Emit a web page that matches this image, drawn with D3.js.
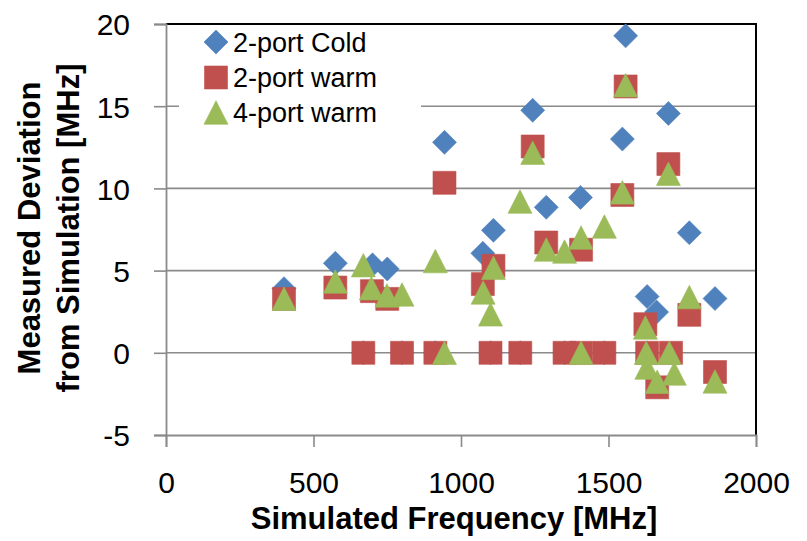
<!DOCTYPE html>
<html>
<head>
<meta charset="utf-8">
<script src="https://cdn.jsdelivr.net/npm/d3@7"></script>
<style>
  body { margin: 0; background: #fff; }
  svg { display: block; }
  text { font-family: "Liberation Sans", Arial, sans-serif; fill: #000; }
</style>
</head>
<body>
<svg id="chart" width="807" height="541"></svg>
<script>
// ---- Data ----
const seriesNames = ["2-port Cold", "2-port warm", "4-port warm"];
const seriesColors = ["#4F81BD", "#C0504D", "#9BBB59"];

const coldX = [400, 574, 700, 750, 944, 1074, 1110, 1243, 1289, 1405, 1558, 1547, 1631, 1663, 1703, 1774, 1861,
               669, 800, 913, 1100, 1201, 1351, 1486, 1630];
const coldY = [3.9, 5.45, 5.35, 5.1, 12.8, 6.05, 7.45, 14.75, 8.85, 9.45, 19.28, 13.0, 3.42, 2.48, 14.56, 7.3, 3.3,
               0, 0, 0, 0, 0, 0, 0, 0];

const warm2X = [400, 574, 669, 698, 750, 800, 913, 944, 1074, 1100, 1110, 1201, 1243, 1289, 1351, 1407, 1407, 1486,
                1547, 1558, 1625, 1631, 1665, 1712, 1703, 1774, 1861];
const warm2Y = [3.28, 3.97, 0, 3.75, 3.28, 0, 0, 10.34, 4.18, 0, 5.29, 0, 12.55, 6.71, 0, 6.27, 0, 0,
                9.6, 16.2, 1.74, 0, -2.1, 0, 11.48, 2.31, -1.17];

const warm4X = [400, 574, 669, 696, 749, 800, 913, 944, 1075, 1100, 1110, 1200, 1243, 1289, 1351, 1407, 1407, 1486,
                1558, 1547, 1625, 1628, 1630, 1665, 1706, 1723, 1703, 1774, 1861];
const warm4Y = [3.29, 4.34, 5.33, 3.93, 3.49, 3.55, 5.58, 0, 3.67, 2.34, 5.17, 9.2, 12.17, 6.28, 6.16, 7.01, 0, 7.68,
                16.28, 9.76, 1.54, 0, -0.9, -1.76, 0, -1.26, 10.89, 3.39, -1.74];

const xTicks = [0, 500, 1000, 1500, 2000];
const yTicks = [-5, 0, 5, 10, 15, 20];
const xTitle = "Simulated Frequency [MHz]";
const yTitleLines = ["Measured Deviation", "from Simulation [MHz]"];

// ---- Layout ----
const svg = d3.select("#chart");
const pL = 166, pR = 756, pT = 24, pB = 435;
const x = d3.scaleLinear().domain([0, 2000]).range([pL, pR]);
const y = d3.scaleLinear().domain([-5, 20]).range([pB, pT]);

const gridColor = "#8a8a8a";
const fmt = d => String(d);

// Horizontal gridlines
svg.append("g").selectAll("line").data(yTicks.filter(d => d !== 20 && d !== -5)).join("line")
  .attr("x1", pL).attr("x2", pR)
  .attr("y1", d => y(d)).attr("y2", d => y(d))
  .attr("stroke", gridColor).attr("stroke-width", 1.6);

// Plot border top & right (black)
svg.append("line").attr("x1", pL).attr("x2", pR + 1).attr("y1", pT).attr("y2", pT)
  .attr("stroke", "#000").attr("stroke-width", 2);
svg.append("line").attr("x1", pR).attr("x2", pR).attr("y1", pT).attr("y2", pB)
  .attr("stroke", "#000").attr("stroke-width", 2);

// Y axis
const yAxis = d3.axisLeft(y).tickValues(yTicks).tickSize(12).tickPadding(24).tickFormat(fmt);
const gy = svg.append("g").attr("transform", `translate(${pL},0)`).call(yAxis);
gy.select(".domain").attr("stroke", gridColor).attr("stroke-width", 1.8);
gy.selectAll(".tick line").attr("stroke", gridColor).attr("stroke-width", 1.6);
gy.selectAll(".tick text").attr("font-size", 30).attr("font-family", "Liberation Sans, Arial, sans-serif")
  .attr("fill", "#000").attr("dy", "0.36em");

// X axis
const xAxis = d3.axisBottom(x).tickValues(xTicks).tickSize(12).tickPadding(25).tickFormat(fmt);
const gx = svg.append("g").attr("transform", `translate(0,${pB})`).call(xAxis);
gx.select(".domain").attr("stroke", gridColor).attr("stroke-width", 1.8);
gx.selectAll(".tick line").attr("stroke", gridColor).attr("stroke-width", 1.6);
gx.selectAll(".tick text").attr("font-size", 30).attr("font-family", "Liberation Sans, Arial, sans-serif")
  .attr("fill", "#000").attr("dy", "0.71em");

// ---- Marker shapes ----
function diamond(w) { const h = w / 2; return `M0,${-h}L${h},0L0,${h}L${-h},0Z`; }
function square(w) { const h = w / 2; return `M${-h},${-h}H${h}V${h}H${-h}Z`; }
function triangle(w, ht) { const h = w / 2, v = ht / 2; return `M0,${-v}L${h},${v}L${-h},${v}Z`; }
const shapes = [() => diamond(24), () => square(23), () => triangle(24, 23.5)];

const series = [
  { xs: coldX, ys: coldY },
  { xs: warm2X, ys: warm2Y },
  { xs: warm4X, ys: warm4Y }
];

series.forEach((s, i) => {
  const pts = s.xs.map((v, k) => ({ x: v, y: s.ys[k] }));
  svg.append("g").selectAll("path").data(pts).join("path")
    .attr("d", shapes[i]())
    .attr("transform", d => `translate(${x(d.x)},${y(d.y)})`)
    .attr("fill", seriesColors[i])
    .attr("stroke", seriesColors[i])
    .attr("stroke-width", 0.6);
});

// ---- Legend ----
const lg = svg.append("g");
lg.append("rect").attr("x", 179).attr("y", 27).attr("width", 242).attr("height", 102).attr("fill", "#fff");
const legendRows = [42, 77.5, 112.5];
seriesNames.forEach((name, i) => {
  lg.append("path").attr("d", shapes[i]())
    .attr("transform", `translate(216,${legendRows[i]})`)
    .attr("fill", seriesColors[i]).attr("stroke", seriesColors[i]).attr("stroke-width", 0.6);
  lg.append("text").attr("x", 233).attr("y", legendRows[i] + 9.5)
    .attr("font-size", 27).text(name);
});

// ---- Axis titles ----
svg.append("text").attr("x", 454).attr("y", 529).attr("text-anchor", "middle")
  .attr("font-size", 31).attr("font-weight", "bold").text(xTitle);

const yt = svg.append("g").attr("transform", "translate(0,228) rotate(-90)");
yt.append("text").attr("x", 0).attr("y", 40).attr("text-anchor", "middle")
  .attr("font-size", 31).attr("font-weight", "bold").text(yTitleLines[0]);
yt.append("text").attr("x", 0).attr("y", 79).attr("text-anchor", "middle")
  .attr("font-size", 31).attr("font-weight", "bold").text(yTitleLines[1]);
</script>
</body>
</html>
